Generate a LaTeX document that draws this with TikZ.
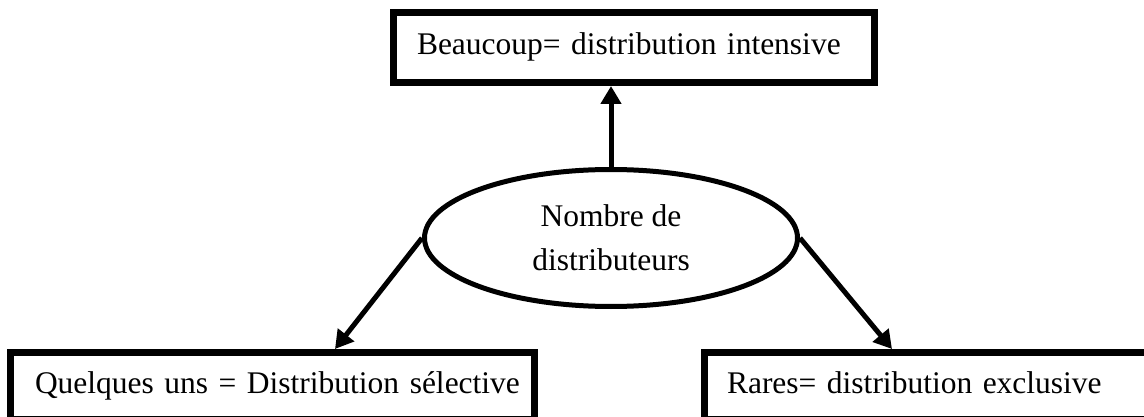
\documentclass[tikz,border=0pt]{standalone}
\usepackage{fontspec}
\setmainfont{Liberation Serif}
\usetikzlibrary{arrows.meta,shapes.geometric}
\begin{document}
\begin{tikzpicture}[x=1pt,y=-1pt,
  every node/.style={font=\fontsize{31.5}{44}\selectfont},
  labelbox/.style={draw, line width=7, rectangle, anchor=north west,
    align=left, text height=22, text depth=7, inner ysep=0},
  hub/.style={draw, line width=5, ellipse, align=center,
    minimum width=373, minimum height=137},
  link/.style={line width=5, -{Triangle[length=18pt,width=20pt]}}]
  \clip (0,0) rectangle (1144,417);
  \useasboundingbox (0,0) rectangle (1144,417);

  % central ellipse
  \node[hub] (ell) at (611,238) {Nombre de\\distributeurs};

  % the three outcome boxes
  \node[labelbox, minimum width=481, minimum height=70, inner xsep=23.5,
        text width=434] (top) at (390,9)
        {\mbox{Beaucoup= distribution intensive}};
  \node[labelbox, minimum width=524, minimum height=67, inner xsep=24.5,
        text width=475] (qb) at (7,349)
        {\mbox{Quelques uns = Distribution sélective}};
  \node[labelbox, minimum width=472, minimum height=67, inner xsep=22.5,
        text width=427] (rb) at (701,349)
        {\mbox{Rares= distribution exclusive}};

  % arrows
  \draw[link] (ell.north) -- (ell.north |- top.south);
  \draw[link] (ell.west) -- ([xshift=328]qb.north west);
  \draw[link] (ell.east) -- ([xshift=191]rb.north west);
\end{tikzpicture}
\end{document}
